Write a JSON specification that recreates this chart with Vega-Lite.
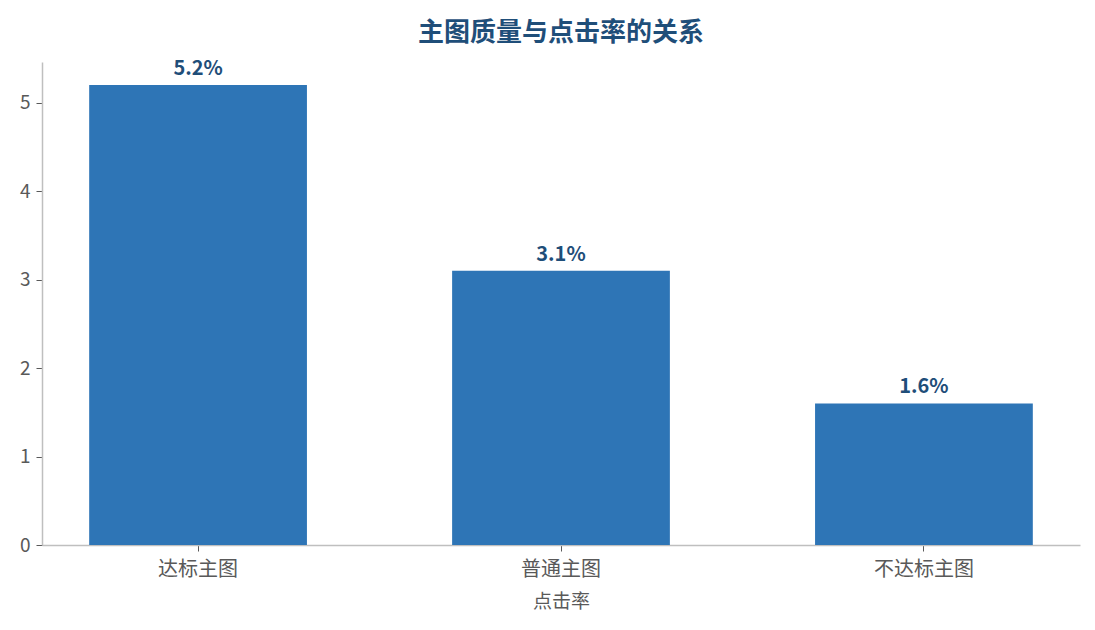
{
  "$schema": "https://vega.github.io/schema/vega-lite/v6.json",
  "autosize": {"type": "none"},
  "padding": {"left": 42, "top": 62, "right": 15, "bottom": 85},
  "width": 1038,
  "height": 483,
  "background": "white",
  "title": {
    "text": "主图质量与点击率的关系",
    "font": "Noto Sans CJK SC",
    "fontSize": 26,
    "fontWeight": "bold",
    "color": "#1f4e79",
    "offset": 13,
    "anchor": "middle"
  },
  "data": {
    "values": [
      {"category": "达标主图", "ctr": 5.2, "label": "5.2%"},
      {"category": "普通主图", "ctr": 3.1, "label": "3.1%"},
      {"category": "不达标主图", "ctr": 1.6, "label": "1.6%"}
    ]
  },
  "config": {
    "view": {"stroke": null},
    "font": "Noto Sans CJK SC",
    "axis": {
      "grid": false,
      "domainColor": "#bfbfbf",
      "domainWidth": 1.5,
      "tickColor": "#595959",
      "tickSize": 6,
      "labelColor": "#595959",
      "labelFontSize": 20,
      "labelFont": "Noto Sans CJK SC",
      "titleColor": "#595959",
      "titleFontSize": 19,
      "titleFontWeight": "normal",
      "titleFont": "Noto Sans CJK SC"
    }
  },
  "layer": [
    {
      "mark": {"type": "bar", "color": "#2e75b6"},
      "encoding": {
        "x": {
          "field": "category",
          "type": "nominal",
          "sort": null,
          "title": "点击率",
          "scale": {"paddingInner": 0.4, "paddingOuter": 0.13},
          "axis": {"labelAngle": 0, "labelPadding": 8, "titlePadding": 13}
        },
        "y": {
          "field": "ctr",
          "type": "quantitative",
          "title": null,
          "scale": {"domain": [0, 5.46], "nice": false},
          "axis": {"values": [0, 1, 2, 3, 4, 5], "format": "d", "labelPadding": 6, "labelFontSize": 19}
        }
      }
    },
    {
      "mark": {
        "type": "text",
        "dy": -6,
        "baseline": "bottom",
        "fontSize": 20,
        "fontWeight": "bold",
        "color": "#1f4e79",
        "font": "Noto Sans CJK SC"
      },
      "encoding": {
        "x": {"field": "category", "type": "nominal", "sort": null},
        "y": {"field": "ctr", "type": "quantitative"},
        "text": {"field": "label", "type": "nominal"}
      }
    }
  ]
}
